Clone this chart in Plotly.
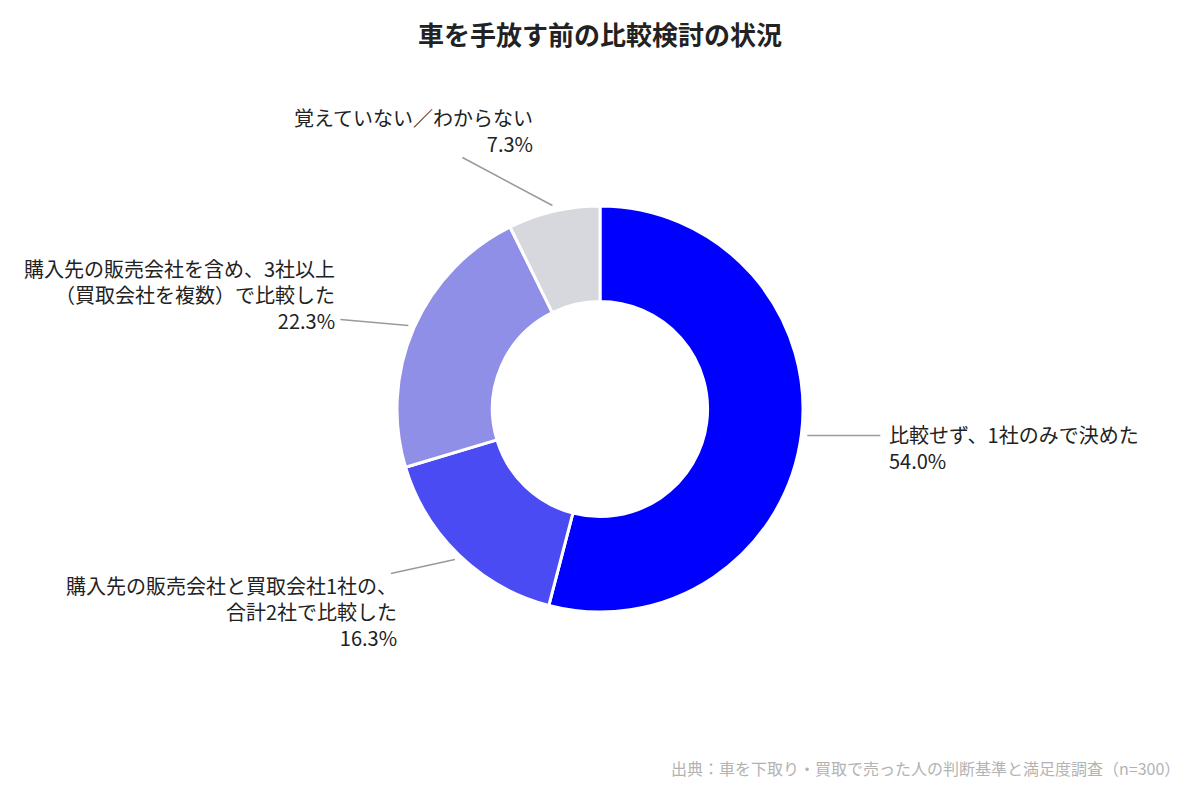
import math
import plotly.graph_objects as go

# データ
labels = [
    "比較せず、1社のみで決めた",
    "購入先の販売会社と買取会社1社の、<br>合計2社で比較した",
    "購入先の販売会社を含め、3社以上<br>（買取会社を複数）で比較した",
    "覚えていない／わからない",
]
values = [54.0, 16.3, 22.3, 7.3]
colors = ["#0000FF", "#4B4BF3", "#8F8FE7", "#D6D8DE"]

title = "車を手放す前の比較検討の状況"
source = "出典：車を下取り・買取で売った人の判断基準と満足度調査（n=300）"

W, H = 1200, 800
CX, CY, R = 600, 409, 203
FONT = "Noto Sans CJK JP"

fig = go.Figure()

fig.add_trace(go.Pie(
    labels=labels,
    values=values,
    hole=0.53,
    sort=False,
    direction="clockwise",
    rotation=0,
    marker=dict(colors=colors, line=dict(color="white", width=3)),
    textinfo="none",
    hoverinfo="label+percent",
    showlegend=False,
    domain=dict(x=[(CX - R) / W, (CX + R) / W], y=[1 - (CY + R) / H, 1 - (CY - R) / H]),
))

# ラベル配置（線の終点オフセット、テキストの位置と揃え）
label_layout = [
    dict(dx=73, dy=0, tx=887, ty=418, xanchor="left", yanchor="top", align="left"),
    dict(dx=-64, dy=14, tx=399, ty=569, xanchor="right", yanchor="top", align="right"),
    dict(dx=-68, dy=-6, tx=337, ty=337, xanchor="right", yanchor="bottom", align="right"),
    dict(dx=-90, dy=-48, tx=535, ty=160, xanchor="right", yanchor="bottom", align="right"),
]

def px2paper(x, y):
    return x / W, 1 - y / H

total = sum(values)
cum = 0
for lab, val, lay in zip(labels, values, label_layout):
    mid = (cum + val / 2) / total * 2 * math.pi
    cum += val
    sx = CX + (R + 6) * math.sin(mid)
    sy = CY - (R + 6) * math.cos(mid)
    ex, ey = sx + lay["dx"], sy + lay["dy"]
    x0, y0 = px2paper(sx, sy)
    x1, y1 = px2paper(ex, ey)
    fig.add_shape(type="line", xref="paper", yref="paper", x0=x0, y0=y0, x1=x1, y1=y1,
                  line=dict(color="#9A9A9A", width=1.5))
    tx, ty = px2paper(lay["tx"], lay["ty"])
    fig.add_annotation(
        x=tx, y=ty, xref="paper", yref="paper",
        text=f"{lab}<br>{val:.1f}%",
        showarrow=False, xanchor=lay["xanchor"], yanchor=lay["yanchor"], align=lay["align"],
        font=dict(family=FONT, size=20, color="#222222"),
    )

fig.add_annotation(
    x=1182 / W, y=1 - 768 / H, xref="paper", yref="paper",
    text=source, showarrow=False, xanchor="right", yanchor="middle",
    font=dict(family=FONT, size=16, color="#B3B3B3"),
)

fig.update_layout(
    title=dict(text=f"<b>{title}</b>", x=0.5, xanchor="center", y=1 - 36 / H, yanchor="middle",
               font=dict(family=FONT, size=26, color="#222222")),
    width=W, height=H,
    margin=dict(l=0, r=0, t=0, b=0),
    paper_bgcolor="white",
    plot_bgcolor="white",
    font=dict(family=FONT),
)

# ページ余白をなくして 1200x800 にぴったり合わせる
fig.write_html("out.html", config={"displayModeBar": False},
               post_script="document.body.style.margin='0';")
